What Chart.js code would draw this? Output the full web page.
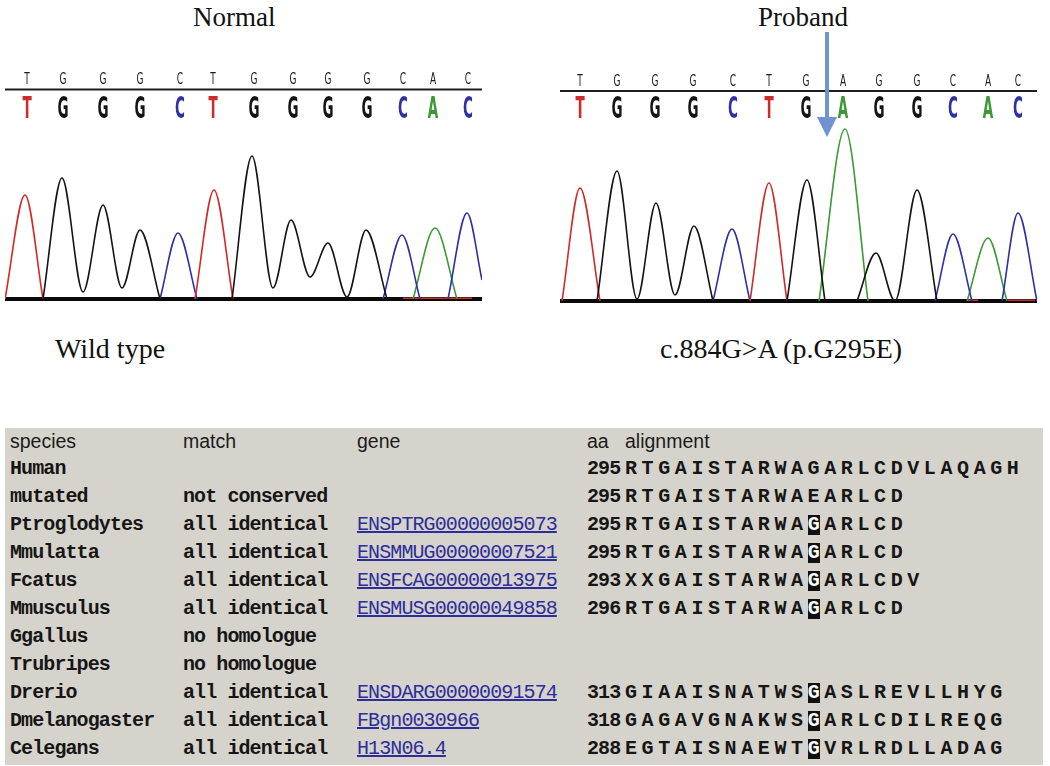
<!DOCTYPE html>
<html>
<head>
<meta charset="utf-8">
<script src="https://cdn.jsdelivr.net/npm/chart.js@4.4.1/dist/chart.umd.min.js"></script>
<style>
  html, body { margin: 0; padding: 0; background: #fff; }
  body { width: 1050px; height: 766px; position: relative; overflow: hidden; }
  canvas { position: absolute; top: 0; }
  .title { position: absolute; font-family: 'Liberation Serif', 'Times New Roman', serif; color: #111; white-space: nowrap; }
  #table { position: absolute; left: 5px; top: 428px; width: 1038px; height: 337px; background: #d6d3cc; }
  .cell { position: absolute; white-space: nowrap; height: 28px; line-height: 28px; }
  .hdr { font-family: 'Liberation Sans', Arial, sans-serif; font-size: 19.5px; color: #1b1b1b; }
  .mono { font-family: 'Liberation Mono', 'Courier New', monospace; font-size: 20px; letter-spacing: -0.9px; color: #161616; font-weight: bold; }
  .gene { font-weight: normal; color: #2d2d9b; text-decoration: underline; }
  .aln { letter-spacing: 4.6px; }
  .hl { display: inline-block; background: #111; color: #fff; letter-spacing: 0; margin-right: 4.6px; height: 20px; line-height: 20px; }
</style>
</head>
<body>
<div class="title" style="left:193px; top:4px; font-size:27px; line-height:27px;">Normal</div>
<div class="title" style="left:758px; top:4px; font-size:27px; line-height:27px;">Proband</div>
<div class="title" style="left:55px; top:335px; font-size:28px; line-height:28px;">Wild type</div>
<div class="title" style="left:660px; top:335px; font-size:28px; line-height:28px;">c.884G&gt;A (p.G295E)</div>

<canvas id="normal" width="477" height="305" style="left:5px"></canvas>
<canvas id="proband" width="477" height="305" style="left:560px"></canvas>

<div id="table"></div>

<script>
// --- base calls (x = scan position of each call) ---
const normalCalls = ['T', 'G', 'G', 'G', 'C', 'T', 'G', 'G', 'G', 'G', 'C', 'A', 'C'];
const normalCallPos = [22, 58, 98, 135, 175, 208, 249, 288, 323, 362, 398, 428, 463];
const probandCalls = ['T', 'G', 'G', 'G', 'C', 'T', 'G', 'A', 'G', 'G', 'C', 'A', 'C'];
const probandCallPos = [20, 57, 95, 133, 173, 209, 246, 283, 319, 357, 393, 428, 458];
const mutationPos = 267;

// --- traces: [scan position, signal], one sub-list per continuous stretch ---
const normalT = [[[0, 0], [20, 104], [38, 0]], [[190, 0], [209, 109], [228, 0]]];
const normalG = [
  [[38, 0], [57, 121], [78, 7], [98, 94], [117, 11], [135, 69], [155, 0]],
  [[227, 0], [247, 143], [268, 11], [286, 79], [305, 22], [323, 56], [342, 2], [361, 69], [382, 0]]
];
const normalC = [[[155, 0], [173, 66], [192, 0]], [[378, 0], [397, 64], [415, 0]], [[443, 0], [462, 86], [477, 19]]];
const normalA = [[[408, 0], [430, 71], [452, 0]]];
const normalNoise = [[[398, 0], [467, 0]]];

const probandT = [[[2, 0], [20, 113], [40, 0]], [[190, 0], [209, 118], [227, 0]]];
const probandG = [
  [[37, 0], [57, 130], [77, 2], [96, 98], [115, 6], [134, 75], [153, 0]],
  [[227, 0], [247, 121], [265, 0]],
  [[297, 0], [316, 48], [335, 0], [357, 111], [377, 0]]
];
const probandC = [[[153, 0], [172, 72], [190, 0]], [[375, 0], [393, 67], [412, 0]], [[442, 0], [458, 88], [477, 0]]];
const probandA = [[[259, 0], [285, 172], [308, 0]], [[407, 0], [428, 63], [447, 0]]];
const probandNoise = [[[407, 0], [418, 0]], [[448, 0], [475, 0]]];

// --- conservation table ---
const species = ['Human', 'mutated', 'Ptroglodytes', 'Mmulatta', 'Fcatus', 'Mmusculus', 'Ggallus', 'Trubripes', 'Drerio', 'Dmelanogaster', 'Celegans'];
const matchText = ['', 'not conserved', 'all identical', 'all identical', 'all identical', 'all identical', 'no homologue', 'no homologue', 'all identical', 'all identical', 'all identical'];
const geneIds = ['', '', 'ENSPTRG00000005073', 'ENSMMUG00000007521', 'ENSFCAG00000013975', 'ENSMUSG00000049858', '', '', 'ENSDARG00000091574', 'FBgn0030966', 'H13N06.4'];
const aaStart = [295, 295, 295, 295, 293, 296, null, null, 313, 318, 288];
const alignments = [
  'RTGAISTARWAGARLCDVLAQAGH',
  'RTGAISTARWAEARLCD',
  'RTGAISTARWAGARLCD',
  'RTGAISTARWAGARLCD',
  'XXGAISTARWAGARLCDV',
  'RTGAISTARWAGARLCD',
  '',
  '',
  'GIAAISNATWSGASLREVLLHYG',
  'GAGAVGNAKWSGARLCDILREQG',
  'EGTAISNAEWTGVRLRDLLADAG'
];
const siteIndex = 11;

const baseColors = { A: '#3b9a35', C: '#2f2fa6', G: '#141414', T: '#d02b2b' };

// draws a letter squeezed horizontally, centred on x
function squeezed(ctx, txt, x, y, font, sx, color) {
  ctx.save();
  ctx.translate(x, y);
  ctx.scale(sx, 1);
  ctx.font = font;
  ctx.fillStyle = color;
  ctx.textAlign = 'center';
  ctx.textBaseline = 'alphabetic';
  ctx.fillText(txt, 0, 0);
  ctx.restore();
}

const chromPlugin = {
  id: 'chrom',
  beforeDatasetsDraw(chart, args, o) {
    const ctx = chart.ctx, xs = chart.scales.x, ys = chart.scales.y;
    const y0 = ys.getPixelForValue(0);
    ctx.save();
    ctx.fillStyle = '#0a0a0a';
    ctx.fillRect(xs.left, y0 - 2, xs.right - xs.left, 4);
    ctx.restore();
  },
  afterDraw(chart, args, o) {
    const ctx = chart.ctx, xs = chart.scales.x;
    ctx.save();
    ctx.fillStyle = '#1e1e1e';
    ctx.fillRect(xs.left, o.ruleY - 1, xs.right - xs.left, 2);
    o.calls.forEach((b, i) => {
      const px = xs.getPixelForValue(o.pos[i]);
      squeezed(ctx, b, px, o.smallY, '15px "DejaVu Sans"', 0.6, '#1c1c1c');
      squeezed(ctx, b, px, 118, 'bold 30px "DejaVu Sans"', 0.45, baseColors[b]);
    });
    if (o.arrowAt != null) {
      const ax = xs.getPixelForValue(o.arrowAt);
      ctx.fillStyle = '#7094cf';
      ctx.fillRect(ax - 2, 32, 4, 88);
      ctx.beginPath();
      ctx.moveTo(ax - 10, 117);
      ctx.lineTo(ax + 10, 117);
      ctx.lineTo(ax, 137);
      ctx.closePath();
      ctx.fill();
    }
    ctx.restore();
  }
};

function traceSets(groups, color, width) {
  return groups.map(g => ({
    data: g.map(([x, y]) => ({ x: x, y: y })),
    borderColor: color,
    borderWidth: width || 1.6,
    pointRadius: 0,
    fill: false,
    cubicInterpolationMode: 'monotone'
  }));
}

function makeChromatogram(id, sets, baseY, chromOpts) {
  return new Chart(document.getElementById(id), {
    type: 'line',
    data: { datasets: sets },
    options: {
      responsive: false,
      animation: false,
      layout: { padding: { left: 0, right: 0, top: 0, bottom: 305 - baseY } },
      scales: {
        x: { type: 'linear', min: 0, max: 477, display: false },
        y: { min: 0, max: baseY, display: false }
      },
      plugins: { legend: { display: false }, tooltip: { enabled: false }, chrom: chromOpts }
    },
    plugins: [chromPlugin]
  });
}

makeChromatogram('normal', [
  ...traceSets(normalG, baseColors.G),
  ...traceSets(normalT, baseColors.T),
  ...traceSets(normalC, baseColors.C),
  ...traceSets(normalA, baseColors.A),
  ...traceSets(normalNoise, baseColors.T, 3)
], 299, { calls: normalCalls, pos: normalCallPos, ruleY: 89.5, smallY: 84 });

makeChromatogram('proband', [
  ...traceSets(probandG, baseColors.G),
  ...traceSets(probandT, baseColors.T),
  ...traceSets(probandC, baseColors.C),
  ...traceSets(probandA, baseColors.A),
  ...traceSets(probandNoise, baseColors.T, 3)
], 301, { calls: probandCalls, pos: probandCallPos, ruleY: 91, smallY: 86, arrowAt: mutationPos });

// table
const table = document.getElementById('table');
function cell(cls, left, row, html) {
  const d = document.createElement('div');
  d.className = 'cell ' + cls;
  d.style.left = left + 'px';
  d.style.top = (-1 + 28 * row) + 'px';
  d.innerHTML = html;
  table.appendChild(d);
}
cell('hdr', 5, 0, 'species');
cell('hdr', 178, 0, 'match');
cell('hdr', 352, 0, 'gene');
cell('hdr', 582, 0, 'aa');
cell('hdr', 620, 0, 'alignment');

species.forEach((sp, i) => {
  const r = i + 1;
  cell('mono', 5, r, sp);
  if (matchText[i]) cell('mono', 178, r, matchText[i]);
  if (geneIds[i]) cell('mono gene', 352, r, geneIds[i]);
  if (aaStart[i] != null) {
    cell('mono', 582, r, String(aaStart[i]));
    const seq = alignments[i].split('').map((ch, k) =>
      (k === siteIndex && geneIds[i]) ? '<span class="hl">' + ch + '</span>' : ch
    ).join('');
    cell('mono aln', 620, r, seq);
  }
});
</script>
</body>
</html>
